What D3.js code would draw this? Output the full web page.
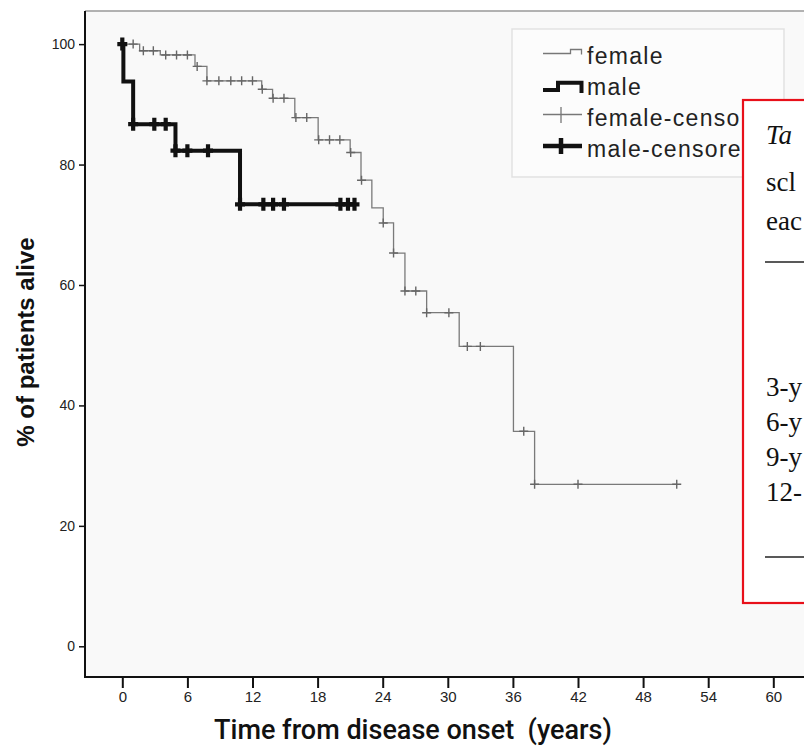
<!DOCTYPE html>
<html>
<head>
<meta charset="utf-8">
<script src="https://cdn.jsdelivr.net/npm/d3@7"></script>
<style>
  body { margin: 0; background: #fff; }
  svg { display: block; }
</style>
</head>
<body>
<div id="chart"></div>
<script>
// Kaplan-Meier steps (time in years, % alive)
var femaleTimes = [0, 1.6, 3.5, 6.7, 7.8, 12.85, 13.85, 15.9, 18.05, 21.0, 22.0, 23.0, 24.05, 25.0, 26.05, 28.05, 31.05, 36.05, 38.0];
var femaleSurv = [100, 98.9, 98.2, 96.3, 93.9, 92.5, 91.0, 87.8, 84.1, 82.0, 77.4, 72.8, 70.3, 65.3, 59.0, 55.4, 49.8, 35.7, 26.9];
var femaleEnd = 51.1;
var femaleCensored = [1.0, 1.94, 2.86, 4.0, 5.0, 6.0, 6.9, 7.8, 8.9, 10.0, 11.0, 12.0, 12.9, 13.9, 14.9,
  16.0, 17.0, 18.1, 19.1, 20.05, 21.05, 22.05, 24.05, 25.0, 26.05, 27.05, 28.05, 30.1, 31.8, 33.0,
  37.0, 38.0, 42.0, 51.1];

var maleTimes = [0, 0.1, 1.0, 4.9, 10.85];
var maleSurv = [100, 93.8, 86.7, 82.3, 73.4];
var maleEnd = 21.4;
var maleCensored = [0, 1.0, 2.95, 4.0, 4.9, 6.0, 7.9, 10.85, 13.0, 13.9, 14.9, 20.1, 20.8, 21.4];

var xTicks = [0, 6, 12, 18, 24, 30, 36, 42, 48, 54, 60];
var yTicks = [0, 20, 40, 60, 80, 100];
// the last two labels are cut off by the table box in the picture
var legendLabels = ['female', 'male', 'female-censo', 'male-censore'];
var boxLines = ['Ta', 'scl', 'eac'];
var boxRows = ['3-y', '6-y', '9-y', '12-'];

var W = 804, H = 747;
var frame = { left: 85, top: 11, right: 830, bottom: 677 };

var svg = d3.select('#chart').append('svg')
  .attr('width', W)
  .attr('height', H);

svg.append('clipPath')
  .attr('id', 'legend-clip')
  .append('rect')
  .attr('x', 500).attr('y', 20)
  .attr('width', 242).attr('height', 170);

var x = d3.scaleLinear().domain([0, 60]).range([122.3, 773.3]);
var y = d3.scaleLinear().domain([-5.1, 105.5]).range([frame.bottom, frame.top]);

// plot area
svg.append('rect')
  .attr('x', frame.left)
  .attr('y', frame.top)
  .attr('width', frame.right - frame.left)
  .attr('height', frame.bottom - frame.top)
  .attr('fill', '#f9f9f9')
  .attr('stroke', 'none');

svg.append('line')
  .attr('x1', frame.left).attr('x2', frame.right)
  .attr('y1', frame.top).attr('y2', frame.top)
  .attr('stroke', '#999').attr('stroke-width', 1.5);

// axes
var xAxis = svg.append('g')
  .attr('transform', 'translate(0,' + frame.bottom + ')')
  .call(d3.axisBottom(x).tickValues(xTicks).tickSize(11).tickPadding(3));
xAxis.select('.domain').remove();
xAxis.append('line')
  .attr('x1', frame.left - 1).attr('x2', frame.right)
  .attr('stroke', '#111').attr('stroke-width', 2);
xAxis.selectAll('.tick line').attr('stroke', '#111').attr('stroke-width', 2);
xAxis.selectAll('.tick text')
  .attr('fill', '#222')
  .style('font-family', 'Liberation Sans, Arial, sans-serif')
  .style('font-size', '15px');

var yAxis = svg.append('g')
  .attr('transform', 'translate(' + frame.left + ',0)')
  .call(d3.axisLeft(y).tickValues(yTicks).tickSize(6).tickPadding(4));
yAxis.select('.domain').remove();
yAxis.append('line')
  .attr('y1', frame.top).attr('y2', frame.bottom)
  .attr('stroke', '#111').attr('stroke-width', 2);
yAxis.selectAll('.tick line').attr('stroke', '#111').attr('stroke-width', 1.5);
yAxis.selectAll('.tick text')
  .attr('fill', '#222')
  .style('font-family', 'Liberation Sans, Arial, sans-serif')
  .style('font-size', '14px');

// axis titles
svg.append('text')
  .attr('x', 413)
  .attr('y', 739)
  .attr('text-anchor', 'middle')
  .attr('fill', '#111')
  .style('font-family', 'Roboto, sans-serif')
  .style('font-weight', '500')
  .style('font-size', '27px')
  .style('white-space', 'pre')
  .text('Time from disease onset  (years)');

svg.append('text')
  .attr('transform', 'translate(34,342) rotate(-90)')
  .attr('text-anchor', 'middle')
  .attr('fill', '#111')
  .style('font-family', 'Liberation Sans, Arial, sans-serif')
  .style('font-weight', 'bold')
  .style('font-size', '24px')
  .text('% of patients alive');

// curves
function steps(times, surv, end) {
  var pts = times.map(function(t, i) { return [t, surv[i]]; });
  pts.push([end, surv[surv.length - 1]]);
  return pts;
}

function survAt(times, surv, t) {
  var v = surv[0];
  times.forEach(function(s, i) {
    if (t >= s - 1e-9) v = surv[i];
  });
  return v;
}

var line = d3.line()
  .x(function(d) { return x(d[0]); })
  .y(function(d) { return y(d[1]); })
  .curve(d3.curveStepAfter);

svg.append('path')
  .datum(steps(femaleTimes, femaleSurv, femaleEnd))
  .attr('d', line)
  .attr('fill', 'none')
  .attr('stroke', '#7a7a7a')
  .attr('stroke-width', 1.3);

svg.append('g')
  .selectAll('path')
  .data(femaleCensored)
  .enter()
  .append('path')
  .attr('transform', function(d) {
    return 'translate(' + x(d) + ',' + y(survAt(femaleTimes, femaleSurv, d)) + ')';
  })
  .attr('d', 'M-4.5,0H4.5M0,-4.5V4.5')
  .attr('stroke', '#666')
  .attr('stroke-width', 1.4)
  .attr('fill', 'none');

svg.append('path')
  .datum(steps(maleTimes, maleSurv, maleEnd))
  .attr('d', line)
  .attr('fill', 'none')
  .attr('stroke', '#111')
  .attr('stroke-width', 4);

svg.append('g')
  .selectAll('path')
  .data(maleCensored)
  .enter()
  .append('path')
  .attr('transform', function(d) {
    return 'translate(' + x(d) + ',' + y(survAt(maleTimes, maleSurv, d)) + ')';
  })
  .attr('d', 'M-5,0H5M0,-6.5V6.5')
  .attr('stroke', '#111')
  .attr('stroke-width', 4.2)
  .attr('fill', 'none');

// legend
var legend = svg.append('g');
legend.append('rect')
  .attr('x', 512).attr('y', 29)
  .attr('width', 272).attr('height', 148)
  .attr('fill', '#fcfcfc')
  .attr('stroke', '#e2e2e2')
  .attr('stroke-width', 1.5);

var glyphs = [
  { d: 'M543,53.5H570.5V49.5H581.5V54.5', color: '#777', w: 1.3 },
  { d: 'M543,90H558V82.7H581.5V93', color: '#111', w: 4 },
  { d: 'M543,114.5H582M561,107V123', color: '#777', w: 1.3 },
  { d: 'M543,146H582M561,138V154', color: '#111', w: 4.5 }
];

legend.selectAll('path')
  .data(glyphs)
  .enter()
  .append('path')
  .attr('d', function(d) { return d.d; })
  .attr('fill', 'none')
  .attr('stroke', function(d) { return d.color; })
  .attr('stroke-width', function(d) { return d.w; });

legend.append('g')
  .attr('clip-path', 'url(#legend-clip)')
  .selectAll('text')
  .data(legendLabels)
  .enter()
  .append('text')
  .attr('x', 587)
  .attr('y', function(d, i) { return 64 + i * 31; })
  .attr('fill', '#222')
  .style('font-family', 'Liberation Sans, Arial, sans-serif')
  .style('font-size', '23px')
  .style('letter-spacing', '1.3px')
  .text(function(d) { return d; });

// red-framed table excerpt laid over the chart
var box = svg.append('g');
box.append('rect')
  .attr('x', 743).attr('y', 100)
  .attr('width', 100).attr('height', 503)
  .attr('fill', '#fff')
  .attr('stroke', '#e8101a')
  .attr('stroke-width', 2.2);

box.selectAll('text.head')
  .data(boxLines)
  .enter()
  .append('text')
  .attr('class', 'head')
  .attr('x', 766)
  .attr('y', function(d, i) { return [144, 191, 230][i]; })
  .attr('fill', '#111')
  .style('font-family', 'Liberation Serif, Times New Roman, serif')
  .style('font-size', '27px')
  .style('font-style', function(d, i) { return i === 0 ? 'italic' : 'normal'; })
  .text(function(d) { return d; });

box.selectAll('text.row')
  .data(boxRows)
  .enter()
  .append('text')
  .attr('class', 'row')
  .attr('x', 766)
  .attr('y', function(d, i) { return 396 + i * 35; })
  .attr('fill', '#111')
  .style('font-family', 'Liberation Serif, Times New Roman, serif')
  .style('font-size', '27px')
  .text(function(d) { return d; });

[262, 557].forEach(function(ly) {
  box.append('line')
    .attr('x1', 765).attr('x2', 810)
    .attr('y1', ly).attr('y2', ly)
    .attr('stroke', '#222')
    .attr('stroke-width', 1.3);
});
</script>
</body>
</html>
